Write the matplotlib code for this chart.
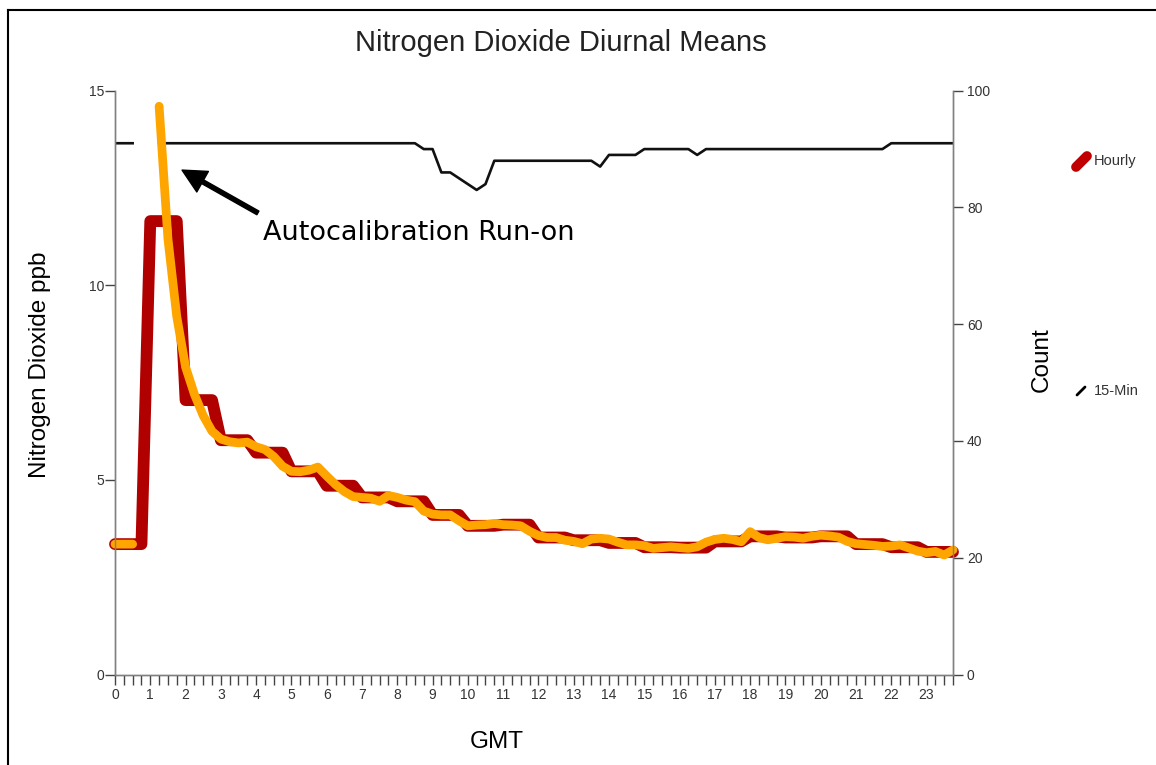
import numpy as np
import matplotlib.pyplot as plt
from matplotlib.lines import Line2D

# 15-minute means (ppb), NaN where no data
no2_15min = [3.35, 3.35, 3.35, np.nan, np.nan, 14.6, 11.2, 9.2,
             7.9, 7.2, 6.65, 6.25, 6.05, 5.98, 5.95, 5.97,
             5.85, 5.78, 5.6, 5.35, 5.22, 5.21, 5.25, 5.33,
             5.1, 4.88, 4.7, 4.57, 4.55, 4.53, 4.45, 4.6,
             4.55, 4.48, 4.44, 4.2, 4.12, 4.1, 4.1, 3.95,
             3.82, 3.84, 3.85, 3.88, 3.85, 3.84, 3.82, 3.68,
             3.57, 3.52, 3.52, 3.45, 3.42, 3.36, 3.48, 3.5,
             3.48, 3.4, 3.33, 3.33, 3.31, 3.24, 3.26, 3.28,
             3.26, 3.24, 3.28, 3.4, 3.47, 3.5, 3.47, 3.41,
             3.67, 3.52, 3.46, 3.5, 3.54, 3.53, 3.5, 3.55,
             3.58, 3.56, 3.53, 3.42, 3.36, 3.34, 3.32, 3.29,
             3.3, 3.33, 3.25, 3.17, 3.13, 3.16, 3.07, 3.2]

# hourly means (ppb)
no2_hourly = [3.35, 11.65, 7.05, 6.02, 5.7, 5.22, 4.85, 4.55,
              4.45, 4.1, 3.82, 3.85, 3.52, 3.45, 3.38, 3.27,
              3.26, 3.42, 3.55, 3.52, 3.55, 3.35, 3.27, 3.15]

# number of 15-minute samples
counts = [91, 91, 91, np.nan, np.nan, 91, 91, 91,
          91, 91, 91, 91, 91, 91, 91, 91,
          91, 91, 91, 91, 91, 91, 91, 91,
          91, 91, 91, 91, 91, 91, 91, 91,
          91, 91, 91, 90, 90, 86, 86, 85,
          84, 83, 84, 88, 88, 88, 88, 88,
          88, 88, 88, 88, 88, 88, 88, 87,
          89, 89, 89, 89, 90, 90, 90, 90,
          90, 90, 89, 90, 90, 90, 90, 90,
          90, 90, 90, 90, 90, 90, 90, 90,
          90, 90, 90, 90, 90, 90, 90, 90,
          91, 91, 91, 91, 91, 91, 91, 91]

hours = np.arange(96) / 4.0
hourly_line = np.repeat(no2_hourly, 4)

fig = plt.figure(figsize=(11.56, 7.65), dpi=100)
ax = fig.add_axes([115 / 1156, 90.5 / 765, 838 / 1156, 583.8 / 765])
ax2 = ax.twinx()
ax.set_zorder(ax2.get_zorder() + 1)
ax.patch.set_visible(False)

ax2.plot(hours, counts, color='#111111', lw=1.9, solid_joinstyle='round')
ax.plot(hours, hourly_line, color='#b00000', lw=8.5, solid_capstyle='round',
        solid_joinstyle='round', clip_on=False)
ax.plot(hours, no2_15min, color='#ffa500', lw=6.3, solid_capstyle='round',
        solid_joinstyle='round', clip_on=False)

ax.set_xlim(0, 23.75)
ax.set_ylim(0, 15)
ax2.set_ylim(0, 100)

axis_grey = '#808080'
for a in (ax, ax2):
    a.spines['top'].set_visible(False)
    for s in ('left', 'right', 'bottom'):
        a.spines[s].set_color(axis_grey)
        a.spines[s].set_linewidth(1)

ax.set_xticks(hours)
ax.set_xticklabels([str(int(h)) if h == int(h) else '' for h in hours])
ax.set_yticks([0, 5, 10, 15])
ax2.set_yticks([0, 20, 40, 60, 80, 100])
ax.tick_params(axis='x', length=7, width=1, color='#444444', pad=3,
               labelsize=10, labelcolor='#333333')
ax.tick_params(axis='y', length=7, width=1, color='#444444', pad=1,
               labelsize=10, labelcolor='#333333')
ax2.tick_params(axis='y', length=7, width=1, color='#444444', pad=3,
                labelsize=10, labelcolor='#333333')
for lab in ax.get_xticklabels() + ax.get_yticklabels() + ax2.get_yticklabels():
    lab.set_family('Liberation Sans')

ax.set_xlabel('GMT', family='Liberation Sans', fontsize=17.5)
ax.xaxis.set_label_coords((497 - 115) / 838, (674.5 - 742) / 583.8)
ax.set_ylabel('Nitrogen Dioxide ppb', family='Liberation Sans', fontsize=17.5)
ax.yaxis.set_label_coords((40 - 115) / 838, (674.5 - 365) / 583.8)
ax2.set_ylabel('Count', family='Liberation Sans', fontsize=17.5)
ax2.yaxis.set_label_coords((1042 - 115) / 838, (674.5 - 360) / 583.8)
for lbl in (ax.xaxis.label, ax.yaxis.label, ax2.yaxis.label):
    lbl.set_va('center')

fig.text(561 / 1156, 1 - 43 / 765, 'Nitrogen Dioxide Diurnal Means',
         family='Liberation Sans', fontsize=21, ha='center', va='center',
         color='#222222')

ax.annotate('', xy=(1.9, 12.96), xytext=(4.05, 11.86),
            arrowprops=dict(facecolor='black', edgecolor='black', width=3,
                            headwidth=17, headlength=17, shrink=0))
ax.text(4.2, 11.35, 'Autocalibration Run-on', family='DejaVu Sans',
        fontsize=19.5, ha='left', va='center', color='black')

# legend entries drawn by hand
fig.add_artist(Line2D([1076 / 1156, 1087 / 1156], [1 - 167 / 765, 1 - 156 / 765],
                      color='#c00000', lw=7, solid_capstyle='round'))
fig.text(1094 / 1156, 1 - 161 / 765, 'Hourly', family='Liberation Sans',
         fontsize=10.5, va='center', color='#333333')
fig.add_artist(Line2D([1077 / 1156, 1085 / 1156], [1 - 395 / 765, 1 - 387 / 765],
                      color='black', lw=2, solid_capstyle='round'))
fig.text(1094 / 1156, 1 - 391 / 765, '15-Min', family='Liberation Sans',
         fontsize=10.5, va='center', color='#333333')

# outer frame
fig.add_artist(Line2D([8 / 1156, 8 / 1156], [0, 1 - 10 / 765], color='black', lw=1.5))
fig.add_artist(Line2D([8 / 1156, 1], [1 - 10 / 765, 1 - 10 / 765], color='black', lw=1.5))

fig.savefig('out.png', dpi=100)
